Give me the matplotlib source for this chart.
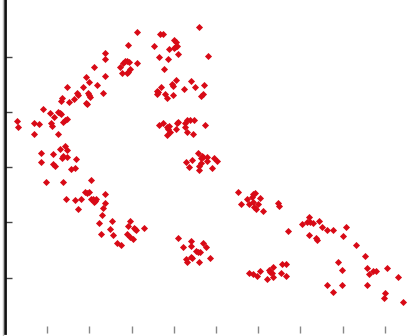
import matplotlib
matplotlib.use("Agg")
import matplotlib.pyplot as plt
from matplotlib.lines import Line2D
import numpy as np

# point coordinates (arbitrary units)
x_vals = [132, 123, 100, 100, 132, 115, 118, 120, 122, 124, 117, 123, 125, 122, 89, 100,
          81, 84, 92, 62, 78, 72, 73, 83, 84, 85, 69, 64, 57, 56, 98, 81, 82, 38, 45, 53,
          55, 56, 49, 58, 60, 62, 46, 47, 29, 34, 12, 13, 29, 53,
          36, 48, 55, 60, 62, 58, 57, 62, 71, 36, 48, 50, 66, 70, 41, 58, 86, 80, 82, 84,
          100, 61, 70, 76, 86, 88, 90, 91, 89, 100, 98, 73, 97, 94, 107, 125, 123, 129,
          131, 130, 139, 105, 96, 108, 122, 125, 128, 112, 116,
          155, 158, 194, 169, 171, 149, 170, 172, 169, 164, 173, 203, 154, 163, 159, 171,
          167, 168, 186, 199, 156, 179, 190, 152, 152, 153, 160, 162, 168, 198, 196,
          154, 158, 162, 163, 165, 164, 172, 173, 171, 180, 182, 185, 189, 180, 182, 188,
          162, 200,
          193, 187, 181, 197, 196, 198, 202, 202, 196, 194, 184, 194, 207, 209, 212,
          173, 186, 186, 178, 198, 201, 191, 193, 195, 181, 182, 186, 187, 194, 205,
          233, 248, 250, 242, 247, 255, 236, 244, 248, 249, 251, 253, 258, 273, 274,
          244, 248, 252, 255, 262, 264, 268, 265, 267, 268, 277, 281, 276, 281,
          283, 297, 302, 304, 305, 308, 314, 317, 304, 311, 312, 322, 328, 341, 338, 351,
          360, 333, 337, 362, 364, 368, 371, 382, 393, 362, 322, 337, 328, 380, 379, 398]
y_vals = [301, 288, 280, 274, 270, 266, 270, 272, 272, 271, 260, 261, 264, 260, 266, 257,
          256, 251, 248, 246, 246, 240, 238, 240, 238, 236, 234, 231, 235, 232, 240, 230,
          229, 224, 220, 221, 220, 219, 216, 211, 213, 214, 210, 207, 210, 209, 212, 206,
          199, 199,
          180, 179, 184, 187, 183, 177, 175, 176, 174, 171, 169, 167, 164, 165, 151, 151,
          153, 141, 140, 141, 139, 134, 133, 134, 134, 134, 132, 134, 131, 130, 125, 124,
          118, 110, 112, 112, 107, 105, 103, 104, 105, 104, 99, 98, 99, 96, 94, 90, 88,
          299, 299, 306, 293, 291, 287, 286, 287, 285, 284, 279, 277, 276, 274, 264, 253,
          249, 247, 252, 248, 246, 244, 246, 242, 239, 241, 239, 235, 238, 239, 237,
          208, 210, 206, 204, 201, 207, 210, 211, 204, 210, 213, 213, 213, 206, 201, 199,
          198, 208,
          180, 173, 171, 177, 175, 176, 176, 172, 170, 167, 166, 163, 165, 175, 172,
          95, 92, 87, 86, 90, 86, 82, 81, 81, 74, 71, 76, 75, 71, 75,
          141, 139, 140, 134, 136, 135, 129, 129, 131, 126, 124, 129, 122, 130, 127,
          60, 59, 57, 62, 54, 63, 66, 61, 60, 56, 69, 69, 60, 57,
          102, 109, 111, 116, 111, 110, 112, 106, 98, 95, 93, 103, 103, 106, 97, 88,
          77, 71, 63, 65, 59, 62, 62, 65, 56, 48, 48, 48, 41, 40, 35, 31]

fig = plt.figure(figsize=(4.09, 3.36), dpi=100)
ax = fig.add_axes([5 / 409, 3 / 336, 404 / 409, 333 / 336])

ax.scatter(x_vals, y_vals, marker='D', s=13, color='#d80a16', linewidths=0)

ax.set_xlim(0, 404)
ax.set_ylim(0, 333)
ax.set_xticks(np.arange(1, 10) * 42.2)
ax.set_yticks(np.arange(1, 6) * 55.3)
ax.set_xticklabels([])
ax.set_yticklabels([])
ax.tick_params(direction='in', length=5, width=1, colors='#444444')
ax.tick_params(axis='x', colors='#888888')

for side in ['top', 'right', 'bottom']:
    ax.spines[side].set_visible(False)
ax.spines['left'].set_linewidth(2)
ax.spines['left'].set_color('#111111')

# faint grey edge left of the axis
fig.add_artist(Line2D([2.5 / 409, 2.5 / 409], [0, 1], color='#bbbbbb', linewidth=1))

fig.savefig('out.png', dpi=100)
